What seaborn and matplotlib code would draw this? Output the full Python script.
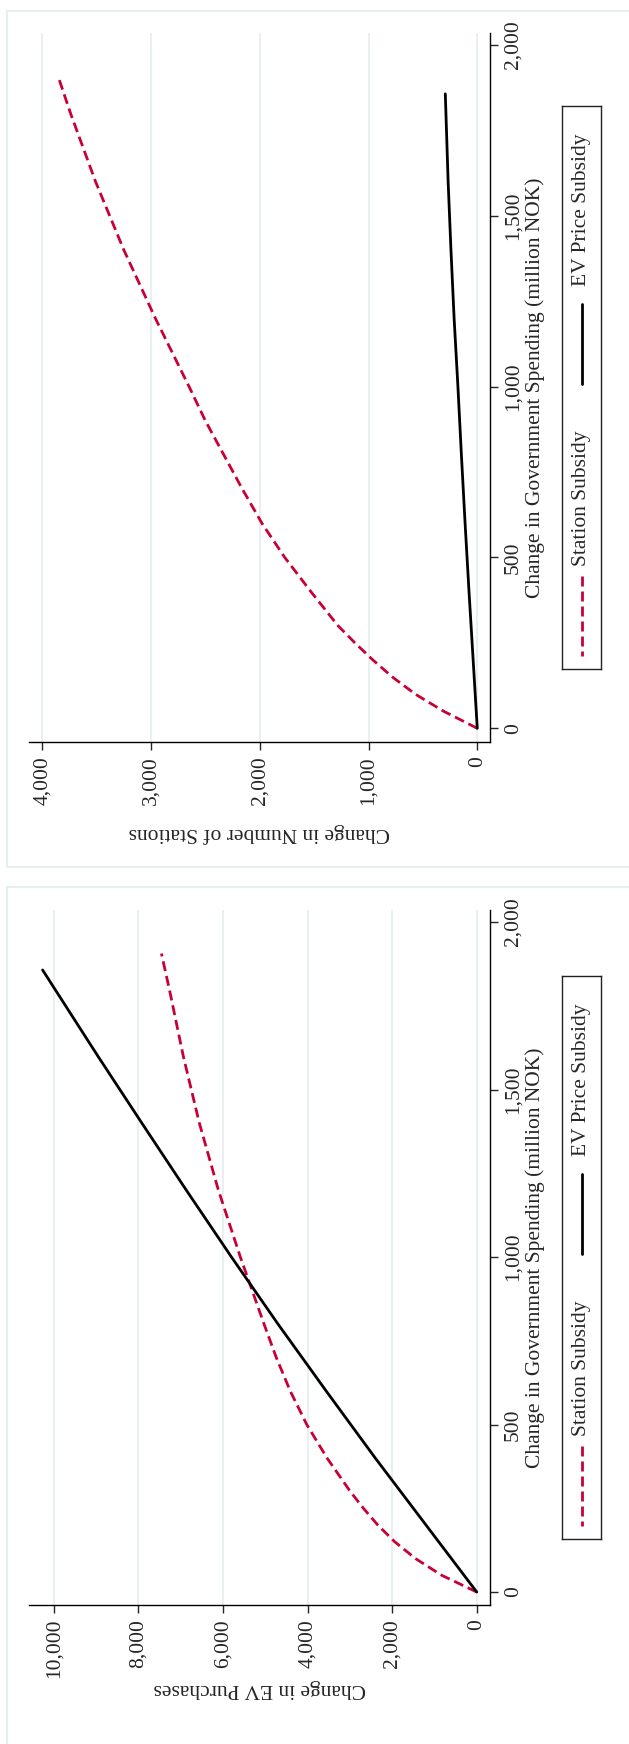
import matplotlib
matplotlib.use('Agg')
import matplotlib.pyplot as plt
import seaborn as sns
from matplotlib.patches import Rectangle

# --- data ---
# government spending, million NOK
ev_spend = [0, 200, 400, 600, 800, 1000, 1200, 1400, 1600, 1857]
st_spend = [0, 50, 100, 150, 200, 250, 300, 400, 500, 600, 700, 800, 900, 1000, 1200, 1400, 1600,
            1800, 1906]

# panel 1: change in EV purchases
purch_ev = [0, 1200, 2400, 3560, 4700, 5800, 6870, 7920, 8960, 10267]
purch_st = [0, 830, 1450, 1940, 2340, 2680, 2990, 3540, 4020, 4410, 4740, 5030, 5310, 5590, 6110,
            6560, 6940, 7270, 7456]

# panel 2: change in number of stations
stat_ev = [0, 38, 76, 112, 146, 178, 213, 242, 268, 294]
stat_st = [0, 310, 570, 780, 960, 1125, 1280, 1530, 1770, 1980, 2160, 2330, 2500, 2650, 2960,
           3250, 3510, 3740, 3852]

spend_ticks = [0, 500, 1000, 1500, 2000]
spend_labels = ['0', '500', '1,000', '1,500', '2,000']
purch_ticks = [0, 2000, 4000, 6000, 8000, 10000]
purch_labels = ['0', '2,000', '4,000', '6,000', '8,000', '10,000']
stat_ticks = [0, 1000, 2000, 3000, 4000]
stat_labels = ['0', '1,000', '2,000', '3,000', '4,000']

RED = '#c80036'
GRID = '#e6eef0'
DASH = (0, (3.6, 1.8))
W, H = 629, 1744
FS = 15.5

sns.set_style('white')
plt.rcParams['font.family'] = ['Liberation Serif', 'DejaVu Serif']


def fx(px):
    return px / W


def fy(py):
    return 1 - py / H


def panel_ax(fig, top, bottom):
    return fig.add_axes([fx(29), fy(bottom), (490 - 29) / W, (bottom - top) / H])


def draw_panel(ax, x_ev, x_st, xlim, ylim, xticks, xlabels, xtitle, title_y):
    sns.lineplot(x=x_st, y=st_spend, sort=False, estimator=None, ax=ax,
                 color=RED, lw=2.0, linestyle=DASH)
    sns.lineplot(x=x_ev, y=ev_spend, sort=False, estimator=None, ax=ax,
                 color='black', lw=2.0)
    ax.set_xlim(*xlim)
    ax.set_ylim(*ylim)
    ax.set_xticks(xticks, labels=xlabels)
    ax.set_yticks(spend_ticks, labels=spend_labels)
    ax.yaxis.tick_right()
    ax.grid(axis='x', color=GRID, lw=1.2)
    ax.grid(axis='y', visible=False)
    ax.set_axisbelow(True)
    for s in ['left', 'top']:
        ax.spines[s].set_visible(False)
    for s in ['bottom', 'right']:
        ax.spines[s].set_color('black')
        ax.spines[s].set_linewidth(1.0)
    ax.tick_params(axis='x', direction='out', length=6, width=1, pad=4,
                   labelsize=FS, labelrotation=90, bottom=True)
    ax.tick_params(axis='y', direction='out', length=6, width=1, pad=4,
                   labelsize=FS, labelrotation=90, right=True, left=False,
                   labelright=True, labelleft=False)
    for t in ax.get_yticklabels():
        t.set_va('center')
    ax.set_xlabel(xtitle, fontsize=FS, rotation=180, va='center', ha='center')
    ax.xaxis.set_label_coords(0.5, title_y)
    ax.yaxis.set_label_position('right')
    ax.set_ylabel('Change in Government Spending (million NOK)', fontsize=FS,
                  rotation=90, va='center', ha='center')
    ax.yaxis.set_label_coords((535.5 - 29) / (490 - 29), 0.5)


def draw_legend(fig, top):
    x0, x1 = 562, 601
    h = 563
    lax = fig.add_axes([fx(x0), fy(top + h), (x1 - x0) / W, h / H])
    lax.set_xlim(0, x1 - x0)
    lax.set_ylim(h, 0)
    lax.set_xticks([])
    lax.set_yticks([])
    for s in lax.spines.values():
        s.set_color('#222222')
        s.set_linewidth(1.0)
    cx = 19.6
    lax.text(cx, 104, 'EV Price Subsidy', rotation=90, ha='center', va='center', fontsize=FS)
    lax.plot([cx, cx], [198, 278], color='black', lw=2.0)
    lax.text(cx, 392, 'Station Subsidy', rotation=90, ha='center', va='center', fontsize=FS)
    lax.plot([cx, cx], [470, 550], color=RED, lw=2.0, linestyle=DASH)


fig = plt.figure(figsize=(W / 100, H / 100), dpi=100)

# light outer frames of the two graph regions
fig.patches.append(Rectangle((fx(7), fy(867)), 1.0, (867 - 11) / H, transform=fig.transFigure,
                             fill=False, edgecolor=GRID, lw=1.5))
fig.patches.append(Rectangle((fx(7), fy(1790)), 1.0, (1790 - 887) / H, transform=fig.transFigure,
                             fill=False, edgecolor=GRID, lw=1.5))

# top: stations
ax1 = panel_ax(fig, 32.7, 742.3)
draw_panel(ax1, stat_ev, stat_st, (4122, -117), (-41, 2036), stat_ticks, stat_labels,
           'Change in Number of Stations', -(833 - 742.3) / (742.3 - 32.7))
draw_legend(fig, 106)

# bottom: EV purchases
ax2 = panel_ax(fig, 910, 1605)
draw_panel(ax2, purch_ev, purch_st, (10588, -314), (-38.8, 2036), purch_ticks, purch_labels,
           'Change in EV Purchases', -(1688 - 1605) / (1605 - 910))
draw_legend(fig, 976)

fig.savefig('out.png', dpi=100)
